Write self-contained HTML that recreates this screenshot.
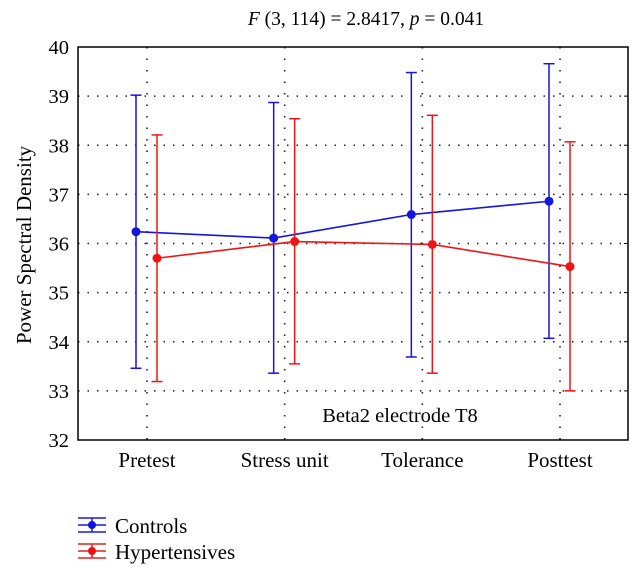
<!DOCTYPE html>
<html><head><meta charset="utf-8"><style>
body{margin:0;background:#fff;width:643px;height:578px;overflow:hidden}
svg{font-family:"Liberation Serif",serif}
</style></head><body>
<svg id="chart" width="643" height="578">
<text x="366" y="25" font-size="19.5" text-anchor="middle"><tspan font-style="italic">F</tspan> (3, 114) = 2.8417, <tspan font-style="italic">p</tspan> = 0.041</text>
<text transform="translate(31,245) rotate(-90)" font-size="21" text-anchor="middle">Power Spectral Density</text>
<text x="400" y="422" font-size="20.5" text-anchor="middle">Beta2 electrode T8</text>
<g id="grid"></g><g id="marks"></g>
<rect x="78" y="47" width="550" height="393" fill="none" stroke="#000" stroke-width="1.5"/>
<g>
 <g>
  <line x1="78" y1="518" x2="106" y2="518" stroke="#1a1adc" stroke-width="1.5"/><line x1="78" y1="532" x2="106" y2="532" stroke="#1a1adc" stroke-width="1.5"/>
  <line x1="92" y1="518" x2="92" y2="532" stroke="#1a1adc" stroke-width="1.5"/><line x1="78" y1="525" x2="106" y2="525" stroke="#1a1adc" stroke-width="1.5"/><circle cx="92" cy="525" r="4" fill="#1010e0"/>
  <text x="115" y="533" font-size="21">Controls</text></g>
 <g>
  <line x1="78" y1="544" x2="106" y2="544" stroke="#e02020" stroke-width="1.5"/><line x1="78" y1="558" x2="106" y2="558" stroke="#e02020" stroke-width="1.5"/>
  <line x1="92" y1="544" x2="92" y2="558" stroke="#e02020" stroke-width="1.5"/><line x1="78" y1="551" x2="106" y2="551" stroke="#e02020" stroke-width="1.5"/><circle cx="92" cy="551" r="4" fill="#f01010"/>
  <text x="115" y="559" font-size="21">Hypertensives</text></g>
</g>
</svg>
<script>
const categories=["Pretest","Stress unit","Tolerance","Posttest"];
const yTicks=[32,33,34,35,36,37,38,39,40];
const controlsMean=[36.24,36.11,36.59,36.86];
const controlsHigh=[39.02,38.87,39.48,39.66];
const controlsLow=[33.46,33.36,33.69,34.07];
const hyperMean=[35.70,36.04,35.98,35.53];
const hyperHigh=[38.21,38.54,38.61,38.07];
const hyperLow=[33.19,33.55,33.36,33.00];

const NS="http://www.w3.org/2000/svg";
const L=78,R=628,T=47,B=440;
function y(v){return B-(v-32)/(40-32)*(B-T);}
function x(i){return 147+i*(560-147)/(categories.length-1);}
function mk(p,tag,a){const e=document.createElementNS(NS,tag);for(const k in a)e.setAttribute(k,a[k]);p.appendChild(e);return e;}
const grid=document.getElementById('grid'),marks=document.getElementById('marks'),svg=document.getElementById('chart');
yTicks.forEach(t=>{
  if(t>32&&t<40){const g=mk(grid,'line',{x1:L,x2:R,y1:y(t),y2:y(t),stroke:'#222','stroke-width':1.6,'stroke-dasharray':'1.5 8'});
  
  }
  const tk=mk(grid,'line',{x1:R-4,x2:R,y1:y(t),y2:y(t),stroke:'#000'});
  
  
  const lb=mk(svg,'text',{x:L-9,y:y(t)+7,'font-size':20.5,'text-anchor':'end'});lb.textContent=t;
  
  
});
categories.forEach((c,i)=>{
  const g=mk(grid,'line',{x1:x(i),x2:x(i),y1:T,y2:B,stroke:'#222','stroke-width':1.6,'stroke-dasharray':'1.5 10'});
  
  
  const lb=mk(svg,'text',{x:x(i),y:467,'font-size':21,'text-anchor':'middle'});lb.textContent=c;
  
  
});
function series(mean,hi,lo,off,col,name){
  const pts=mean.map((v,i)=>(x(i)+off)+','+y(v)).join(' ');
  mean.forEach((v,i)=>{
    const cx=x(i)+off;
    const eb=mk(marks,'g',{stroke:col,'stroke-width':1.5});
    
    
    mk(eb,'line',{x1:cx,x2:cx,y1:y(hi[i]),y2:y(lo[i])});
    mk(eb,'line',{x1:cx-5.5,x2:cx+5.5,y1:y(hi[i]),y2:y(hi[i])});
    mk(eb,'line',{x1:cx-5.5,x2:cx+5.5,y1:y(lo[i]),y2:y(lo[i])});
  });
  const pl=mk(marks,'polyline',{points:pts,fill:'none',stroke:col,'stroke-width':1.6});
  
  
  mean.forEach((v,i)=>{
    const p=mk(marks,'circle',{cx:x(i)+off,cy:y(v),r:4.5,fill:col});
    
    
  });
}
series(controlsMean,controlsHigh,controlsLow,-11,'#1515e0','controls');
series(hyperMean,hyperHigh,hyperLow,10,'#ee1515','hypertensives');
</script>
</body></html>
